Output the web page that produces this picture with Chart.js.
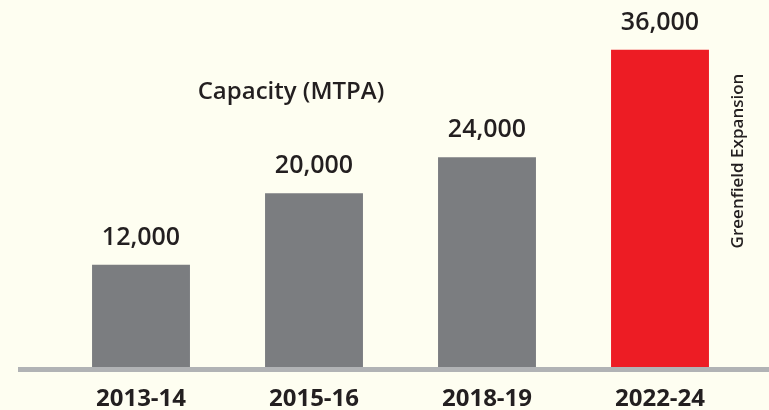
<!DOCTYPE html>
<html>
<head>
<meta charset="utf-8">
<script src="https://cdn.jsdelivr.net/npm/chart.js@4"></script>
<style>
html,body{margin:0;padding:0;background:#fefef1;}
#wrap{width:769px;height:410px;position:relative;}
</style>
</head>
<body>
<div id="wrap"><canvas id="c" width="769" height="410"></canvas></div>
<script>
const categories = ['2013-14', '2015-16', '2018-19', '2022-24'];
const capacity = [12000, 20000, 24000, 36000];
const valueLabels = ['12,000', '20,000', '24,000', '36,000'];
const chartTitle = 'Capacity (MTPA)';
const sideNote = 'Greenfield Expansion';

const barColors = ['#7b7d80', '#7b7d80', '#7b7d80', '#ed1c24'];
const textColor = '#231f20';

const decorPlugin = {
  id: 'decor',
  beforeDraw(chart) {
    const ctx = chart.ctx;
    ctx.save();
    ctx.fillStyle = '#fefef1';
    ctx.fillRect(0, 0, chart.width, chart.height);
    ctx.restore();
  },
  afterDatasetsDraw(chart) {
    const ctx = chart.ctx;
    const y = chart.scales.y;
    const base = y.getPixelForValue(y.min);
    ctx.save();
    // axis line
    ctx.fillStyle = '#b1b3b5';
    ctx.fillRect(18, base, chart.width - 18, 5);
    // value labels
    ctx.fillStyle = textColor;
    ctx.font = '600 25px "Open Sans"';
    ctx.textAlign = 'center';
    ctx.textBaseline = 'middle';
    const meta = chart.getDatasetMeta(0);
    meta.data.forEach((bar, i) => {
      ctx.fillText(valueLabels[i], bar.x, bar.y - 27);
    });
    // title
    ctx.font = '600 24px "Open Sans"';
    ctx.fillText(chartTitle, 291, 92);
    // side note
    ctx.translate(738, 161);
    ctx.rotate(-Math.PI / 2);
    ctx.font = '600 17px "Open Sans"';
    ctx.fillText(sideNote, 0, 0);
    ctx.restore();
  }
};

new Chart(document.getElementById('c'), {
  type: 'bar',
  data: {
    labels: categories,
    datasets: [{
      data: capacity,
      backgroundColor: barColors,
      borderWidth: 0,
      categoryPercentage: 1,
      barPercentage: 0.566
    }]
  },
  options: {
    responsive: false,
    animation: false,
    layout: { padding: { left: 54.5, right: 22.5, top: 14, bottom: 0 } },
    plugins: { legend: { display: false }, tooltip: { enabled: false }, title: { display: false } },
    scales: {
      x: {
        grid: { display: false, drawTicks: false },
        border: { display: false },
        afterFit(scale) { scale.height = 43; },
        ticks: {
          color: textColor,
          padding: 19,
          font: { family: '"Open Sans"', weight: 'bold', size: 24, lineHeight: 1.1 }
        }
      },
      y: {
        display: false,
        min: 600,
        max: 40000
      }
    }
  },
  plugins: [decorPlugin]
});
</script>
</body>
</html>
